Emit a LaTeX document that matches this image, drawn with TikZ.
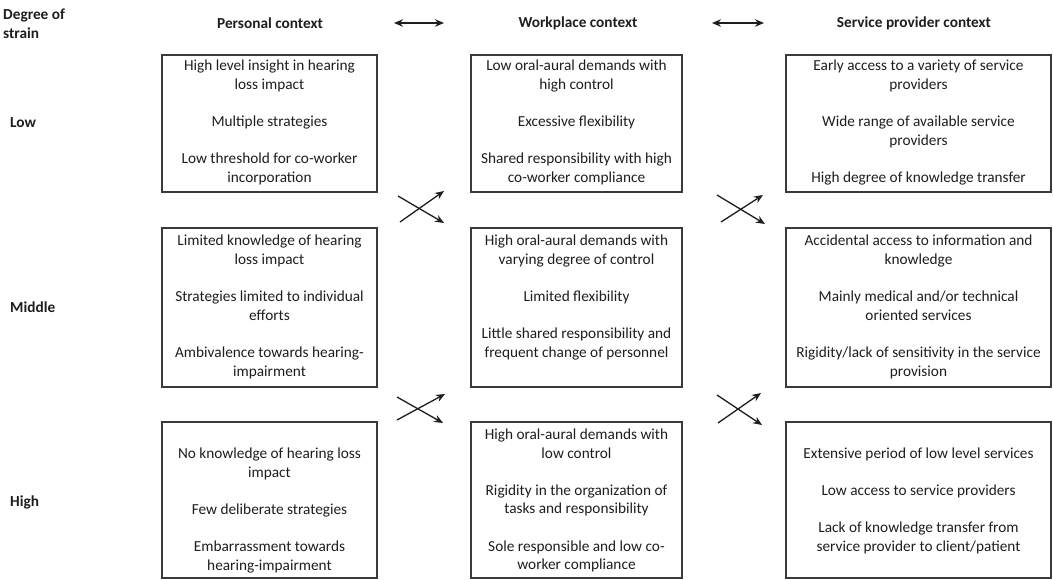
\documentclass[tikz,border=0pt]{standalone}
\usepackage{fontspec}
\setmainfont{Carlito}
\usetikzlibrary{arrows.meta}
\definecolor{boxline}{HTML}{3A3A3A}
\definecolor{txt}{HTML}{1E1E1E}
\tikzset{
  box/.style={draw=boxline, line width=1.3pt, rectangle, inner sep=0pt},
  body/.style={align=center, text=txt, font=\fontsize{15.3}{18.6}\selectfont, inner sep=0pt},
  head/.style={text=txt, font=\fontsize{15.3}{18.6}\selectfont\bfseries, inner sep=0pt},
  rowlab/.style={text=txt, font=\fontsize{15.3}{18.6}\selectfont\bfseries, inner sep=0pt, anchor=west, align=left},
  link/.style={draw=txt, line width=1.3pt, -{Stealth[length=9pt,width=7.5pt]}},
  duallink/.style={draw=txt, line width=1.4pt, {Stealth[length=9pt,width=7.5pt]}-{Stealth[length=9pt,width=7.5pt]}}
}
\newcommand{\gap}{\\[18.6pt]}
\begin{document}
\begin{tikzpicture}[x=1pt,y=-1pt]
\useasboundingbox (0,0) rectangle (1053,580);
\fill[white] (0,0) rectangle (1053,580);

% headers
\node[rowlab] (deg) at (3,23.5) {Degree of\\strain};
\node[head] (hp) at (270,23) {Personal context};
\node[head] (hw) at (578,23) {Workplace context};
\node[head] (hs) at (914,23) {Service provider context};
\coordinate (a1l) at (394,23); \coordinate (a1r) at (444,23);
\coordinate (a2l) at (712,23); \coordinate (a2r) at (764,23);
\draw[duallink] (a1l) -- (a1r);
\draw[duallink] (a2l) -- (a2r);

% row labels
\node[rowlab] (low) at (10,123) {Low};
\node[rowlab] (mid) at (10,307) {Middle};
\node[rowlab] (high) at (10,502) {High};

% boxes
\node[box, minimum width=215pt, minimum height=137pt] (b11) at (269.5,123.5) {};
\node[box, minimum width=211pt, minimum height=137pt] (b12) at (576.5,123.5) {};
\node[box, minimum width=265pt, minimum height=137pt] (b13) at (918.5,123.5) {};
\node[box, minimum width=215pt, minimum height=159pt] (b21) at (269.5,307.5) {};
\node[box, minimum width=211pt, minimum height=159pt] (b22) at (576.5,307.5) {};
\node[box, minimum width=265pt, minimum height=159pt] (b23) at (918.5,307.5) {};
\node[box, minimum width=215pt, minimum height=156pt] (b31) at (269.5,500) {};
\node[box, minimum width=211pt, minimum height=156pt] (b32) at (576.5,500) {};
\node[box, minimum width=265pt, minimum height=156pt] (b33) at (918.5,500) {};

% texts
\node[body] (t11) at (269.5,122.5) {High level insight in hearing\\loss impact\gap Multiple strategies\gap Low threshold for co-worker\\incorporation};
\node[body] (t12) at (576.5,122.5) {Low oral-aural demands with\\high control\gap Excessive flexibility\gap Shared responsibility with high\\co-worker compliance};
\node[body] (t13) at (918.5,122.5) {Early access to a variety of service\\providers\gap Wide range of available service\\providers\gap High degree of knowledge transfer};
\node[body] (t21) at (269.5,307) {Limited knowledge of hearing\\loss impact\gap Strategies limited to individual\\efforts\gap Ambivalence towards hearing-\\impairment};
\node[body] (t22) at (576.5,297.5) {High oral-aural demands with\\varying degree of control\gap Limited flexibility\gap Little shared responsibility and\\frequent change of personnel};
\node[body] (t23) at (918.5,307) {Accidental access to information and\\knowledge\gap Mainly medical and/or technical\\oriented services\gap Rigidity/lack of sensitivity in the service\\provision};
\node[body] (t31) at (269.5,510.5) {No knowledge of hearing loss\\impact\gap Few deliberate strategies\gap Embarrassment towards\\hearing-impairment};
\node[body] (t32) at (576.5,500.5) {High oral-aural demands with\\low control\gap Rigidity in the organization of\\tasks and responsibility\gap Sole responsible and low co-\\worker compliance};
\node[body] (t33) at (918.5,501) {Extensive period of low level services\gap Low access to service providers\gap Lack of knowledge transfer from\\service provider to client/patient};

% crossing arrows
\coordinate (c1a) at (398,196); \coordinate (c1b) at (444,223);
\coordinate (c1c) at (400,222); \coordinate (c1d) at (444,191);
\coordinate (c2a) at (397,397); \coordinate (c2b) at (443,423);
\coordinate (c2c) at (397,420); \coordinate (c2d) at (445,394);
\coordinate (c3a) at (717,195); \coordinate (c3b) at (765,224);
\coordinate (c3c) at (721,222); \coordinate (c3d) at (763,195);
\coordinate (c4a) at (717,395); \coordinate (c4b) at (762,425);
\coordinate (c4c) at (718,423); \coordinate (c4d) at (761,393);
\draw[link] (c1a) -- (c1b);
\draw[link] (c1c) -- (c1d);
\draw[link] (c2a) -- (c2b);
\draw[link] (c2c) -- (c2d);
\draw[link] (c3a) -- (c3b);
\draw[link] (c3c) -- (c3d);
\draw[link] (c4a) -- (c4b);
\draw[link] (c4c) -- (c4d);
\end{tikzpicture}
\end{document}
